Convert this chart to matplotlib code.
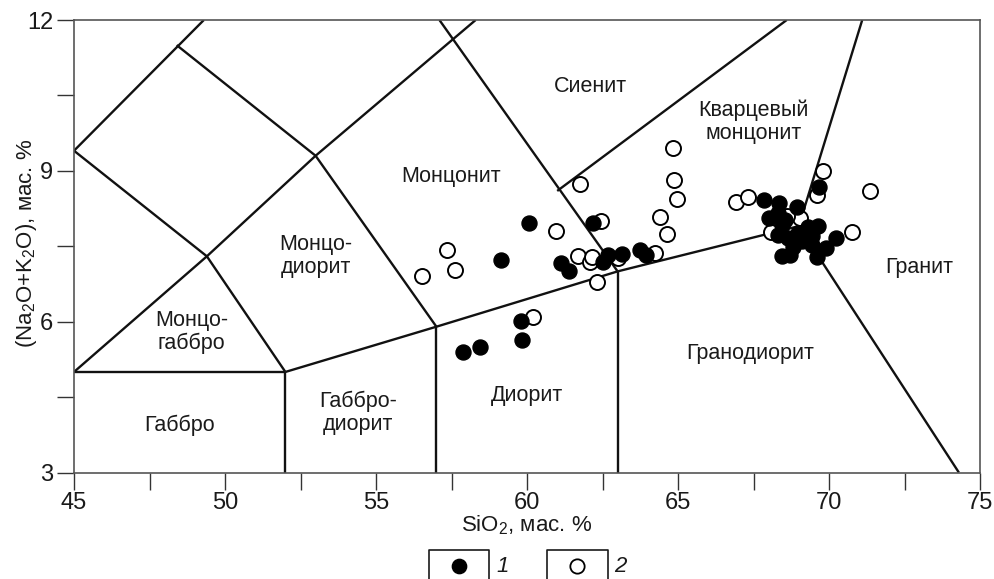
import matplotlib
matplotlib.use("Agg")
import matplotlib.pyplot as plt
from matplotlib.lines import Line2D
from matplotlib import font_manager

plt.rcParams['font.family'] = ['Liberation Sans', 'DejaVu Sans']
plt.rcParams['mathtext.fontset'] = 'custom'
plt.rcParams['mathtext.rm'] = 'Liberation Sans'
plt.rcParams['mathtext.it'] = 'Liberation Sans:italic'

names = {f.name for f in font_manager.fontManager.ttflist}
tick_family = ['Liberation Sans Narrow'] if 'Liberation Sans Narrow' in names else ['Liberation Sans']

# ---- classification boundaries (SiO2, Na2O+K2O) ----
boundaries = [
    [(45, 5.0), (52, 5.0)],
    [(45, 5.0), (49.4, 7.3), (52, 5.0)],
    [(45, 9.4), (49.4, 7.3), (53.0, 9.3)],
    [(45, 9.4), (49.3, 12.0)],
    [(48.4, 11.5), (53.0, 9.3), (57.0, 5.9)],
    [(53.0, 9.3), (58.3, 12.0)],
    [(57.1, 12.0), (63.0, 7.0)],
    [(61.0, 8.6), (68.6, 12.0)],
    [(52.0, 5.0), (57.0, 5.9), (63.0, 7.0), (69.0, 7.9)],
    [(71.1, 12.0), (69.0, 7.9), (74.3, 3.0)],
    [(52.0, 3.0), (52.0, 5.0)],
    [(57.0, 3.0), (57.0, 5.9)],
    [(63.0, 3.0), (63.0, 7.0)],
]

field_names = ["Сиенит", "Кварцевый\nмонцонит", "Монцонит", "Монцо-\nдиорит",
               "Монцо-\nгаббро", "Габбро", "Габбро-\nдиорит", "Диорит",
               "Гранодиорит", "Гранит"]
field_x = [62.1, 67.5, 57.5, 53.0, 48.9, 48.5, 54.4, 60.0, 67.4, 73.0]
field_y = [10.67, 9.97, 8.88, 7.31, 5.79, 3.94, 4.18, 4.54, 5.37, 7.07]

# ---- data: series 1 (filled) ----
s1_x = [57.87, 58.43, 59.79, 59.82, 60.07, 59.13, 62.20, 61.12, 61.39, 62.51,
        62.67, 63.14, 63.75, 63.95,
        69.67, 67.85, 68.34, 68.95, 68.01, 68.32, 68.43, 68.32, 68.65, 68.98,
        69.31, 69.65, 69.43, 68.81, 68.43, 68.71, 69.43, 69.90, 70.23, 69.60,
        69.10, 68.55]
s1_y = [5.40, 5.49, 6.02, 5.64, 7.97, 7.23, 7.97, 7.17, 7.01, 7.19,
        7.33, 7.34, 7.43, 7.33,
        8.67, 8.41, 8.37, 8.29, 8.06, 8.16, 7.92, 7.72, 7.66, 7.76,
        7.89, 7.90, 7.70, 7.49, 7.31, 7.33, 7.52, 7.46, 7.66, 7.28,
        7.60, 8.02]

# ---- data: series 2 (open) ----
s2_x = [60.19, 64.85, 64.87, 64.96, 64.40, 64.64, 64.24, 61.74, 62.46, 60.96,
        57.36, 56.53, 57.60, 61.69, 62.07, 62.16, 63.00, 62.33,
        66.92, 67.33, 69.79, 69.59, 71.37, 70.77, 69.04, 68.07, 68.60]
s2_y = [6.09, 9.45, 8.82, 8.44, 8.08, 7.74, 7.36, 8.74, 8.01, 7.81,
        7.43, 6.91, 7.03, 7.31, 7.19, 7.28, 7.26, 6.79,
        8.39, 8.47, 9.00, 8.52, 8.60, 7.79, 8.06, 7.79, 8.10]

x_major = [45, 50, 55, 60, 65, 70, 75]
x_minor = [47.5, 52.5, 57.5, 62.5, 67.5, 72.5]
y_major = [3, 6, 9, 12]
y_minor = [4.5, 7.5, 10.5]
legend_labels = ["1", "2"]

W, H = 994, 579
fig = plt.figure(figsize=(W / 100, H / 100), dpi=100)
ax = fig.add_axes([74 / W, 1 - 472.5 / H, (980 - 74) / W, (472.5 - 20) / H])
ax.set_xlim(45, 75)
ax.set_ylim(3, 12)

for seg in boundaries:
    xs = [p[0] for p in seg]
    ys = [p[1] for p in seg]
    ax.plot(xs, ys, color='#111111', lw=1.7, solid_capstyle='butt', zorder=2)

for name, fx, fy in zip(field_names, field_x, field_y):
    ax.text(fx, fy, name, ha='center', va='center', fontsize=15.5,
            color='#1a1a1a', linespacing=1.12, zorder=1)

msize = 10.8
ax.plot(s2_x, s2_y, 'o', ms=msize, mfc='white', mec='black', mew=1.4,
        linestyle='none', zorder=3)
ax.plot(s1_x, s1_y, 'o', ms=msize, mfc='black', mec='black', mew=1.0,
        linestyle='none', zorder=4)

ax.set_xticks(x_major)
ax.set_xticks(x_minor, minor=True)
ax.set_yticks(y_major)
ax.set_yticks(y_minor, minor=True)
ax.tick_params(which='both', direction='out', length=12, width=1.0,
               color='#333333', labelsize=17, labelcolor='#1a1a1a')
ax.tick_params(axis='x', pad=2)
ax.tick_params(axis='y', pad=3)
for lab in ax.get_xticklabels() + ax.get_yticklabels():
    lab.set_family(tick_family)
for sp in ax.spines.values():
    sp.set_color('#555555')
    sp.set_linewidth(1.2)

fig.text(527 / W, 1 - 525 / H, r"SiO$_2$, мас. %", ha='center', va='center',
         fontsize=16, color='#1a1a1a')
fig.text(27 / W, 1 - 243 / H, r"(Na$_2$O+K$_2$O), мас. %", ha='center',
         va='center', rotation=90, fontsize=16, color='#1a1a1a')

# ---- legend boxes ----
boxes = [(429, 489, 459, 496), (547, 608, 577, 614)]
top = 1 - 550 / H
for i, (x0, x1, xm, xt) in enumerate(boxes):
    fig.add_artist(Line2D([x0 / W, x0 / W, x1 / W, x1 / W], [-0.01, top, top, -0.01],
                          transform=fig.transFigure, color='#1a1a1a', lw=1.2))
    if i == 0:
        fig.add_artist(Line2D([xm / W], [1 - 566 / H], marker='o', ms=msize - 0.5,
                              mfc='black', mec='black', transform=fig.transFigure))
    else:
        fig.add_artist(Line2D([xm / W], [1 - 566 / H], marker='o', ms=msize - 0.5,
                              mfc='white', mec='black', mew=1.3,
                              transform=fig.transFigure))
    fig.text(xt / W, 1 - 566 / H, legend_labels[i], ha='left', va='center',
             fontsize=16, style='italic', color='#1a1a1a')

fig.savefig("out.png", dpi=100)
